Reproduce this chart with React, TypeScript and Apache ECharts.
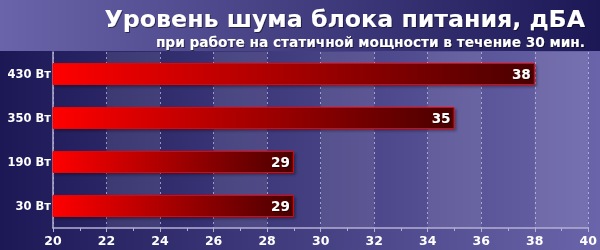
import React, { useEffect, useRef } from "react";
import * as echarts from "echarts";

const categories = ["430 Вт", "350 Вт", "190 Вт", "30 Вт"];
const values = [38, 35, 29, 29];
const xTicks = { min: 20, max: 40, interval: 2 };
const titleText = "Уровень шума блока питания, дБА";
const subtitleText = "при работе на статичной мощности в течение 30 мин.";

export default function App() {
  const ref = useRef<HTMLDivElement>(null);
  useEffect(() => {
    if (!ref.current) return;
    const chart = echarts.init(ref.current, null, { renderer: "svg" });
    const font = "DejaVu Sans";
    const shadow = {
      textShadowColor: "rgba(0,0,0,0.5)",
      textShadowOffsetX: 1,
      textShadowOffsetY: 1,
      textShadowBlur: 1,
    };
    chart.setOption({
      animation: false,
      graphic: [
        {
          type: "rect",
          shape: { x: 0, y: 0, width: 600, height: 51 },
          silent: true,
          z: -10,
          style: {
            fill: new echarts.graphic.LinearGradient(0, 0, 1, 0, [
              { offset: 0, color: "#6a64aa" },
              { offset: 1, color: "#1c1856" },
            ]),
          },
        },
        {
          type: "rect",
          shape: { x: 0, y: 51, width: 600, height: 199 },
          silent: true,
          z: -10,
          style: {
            fill: new echarts.graphic.LinearGradient(0, 0, 1, 0, [
              { offset: 0, color: "#1c1856" },
              { offset: 1, color: "#6a64aa" },
            ]),
          },
        },
      ],
      title: [
        {
          text: titleText,
          right: 15,
          top: 8,
          padding: 0,
          textStyle: {
            color: "#ffffff",
            fontFamily: font,
            fontWeight: "bold",
            fontSize: 23.7,
            lineHeight: 22,
            ...shadow,
          },
        },
        {
          text: subtitleText,
          right: 15,
          top: 37,
          padding: 0,
          textStyle: {
            color: "#ffffff",
            fontFamily: font,
            fontWeight: "bold",
            fontSize: 13.7,
            lineHeight: 10,
            ...shadow,
          },
        },
      ],
      grid: { left: 53, right: 10, top: 52, bottom: 22, containLabel: false },
      xAxis: {
        type: "value",
        min: xTicks.min,
        max: xTicks.max,
        interval: xTicks.interval,
        axisLine: { show: true, lineStyle: { color: "#b4b0d4", width: 1.5 } },
        axisTick: { show: true, length: 4, lineStyle: { color: "#b4b0d4" } },
        minorTick: { show: true, splitNumber: 2, length: 3, lineStyle: { color: "#b4b0d4" } },
        axisLabel: {
          color: "#ffffff",
          fontFamily: font,
          fontWeight: "bold",
          fontSize: 12.5,
          margin: 6,
        },
        splitLine: { show: true, lineStyle: { color: "rgba(220,220,240,0.6)", type: [2, 3], width: 1 } },
        splitArea: {
          show: true,
          areaStyle: { color: ["rgba(255,255,255,0)", "rgba(255,255,255,0.09)"] },
        },
      },
      yAxis: {
        type: "category",
        data: categories,
        inverse: true,
        axisLine: { show: true, lineStyle: { color: "#b4b0d4", width: 1.5 } },
        axisTick: { show: false },
        axisLabel: {
          color: "#ffffff",
          fontFamily: font,
          fontWeight: "bold",
          fontSize: 11.5,
          margin: 2,
        },
      },
      series: [
        {
          type: "bar",
          data: values,
          barWidth: 22,
          itemStyle: {
            color: new echarts.graphic.LinearGradient(0, 0, 1, 0, [
              { offset: 0, color: "#ff0000" },
              { offset: 1, color: "#4a0000" },
            ]),
            borderColor: "#f00000",
            borderWidth: 1,
            shadowColor: "rgba(0,0,0,0.35)",
            shadowOffsetX: 2,
            shadowOffsetY: 2,
            shadowBlur: 3,
          },
          label: {
            show: true,
            position: "insideRight",
            distance: 4,
            color: "#ffffff",
            fontFamily: font,
            fontWeight: "bold",
            fontSize: 13.5,
            ...shadow,
          },
        },
      ],
    });
    return () => chart.dispose();
  }, []);
  return (
    <div
      ref={ref}
      style={{ position: "fixed", left: 0, top: 0, width: 600, height: 250 }}
    />
  );
}
